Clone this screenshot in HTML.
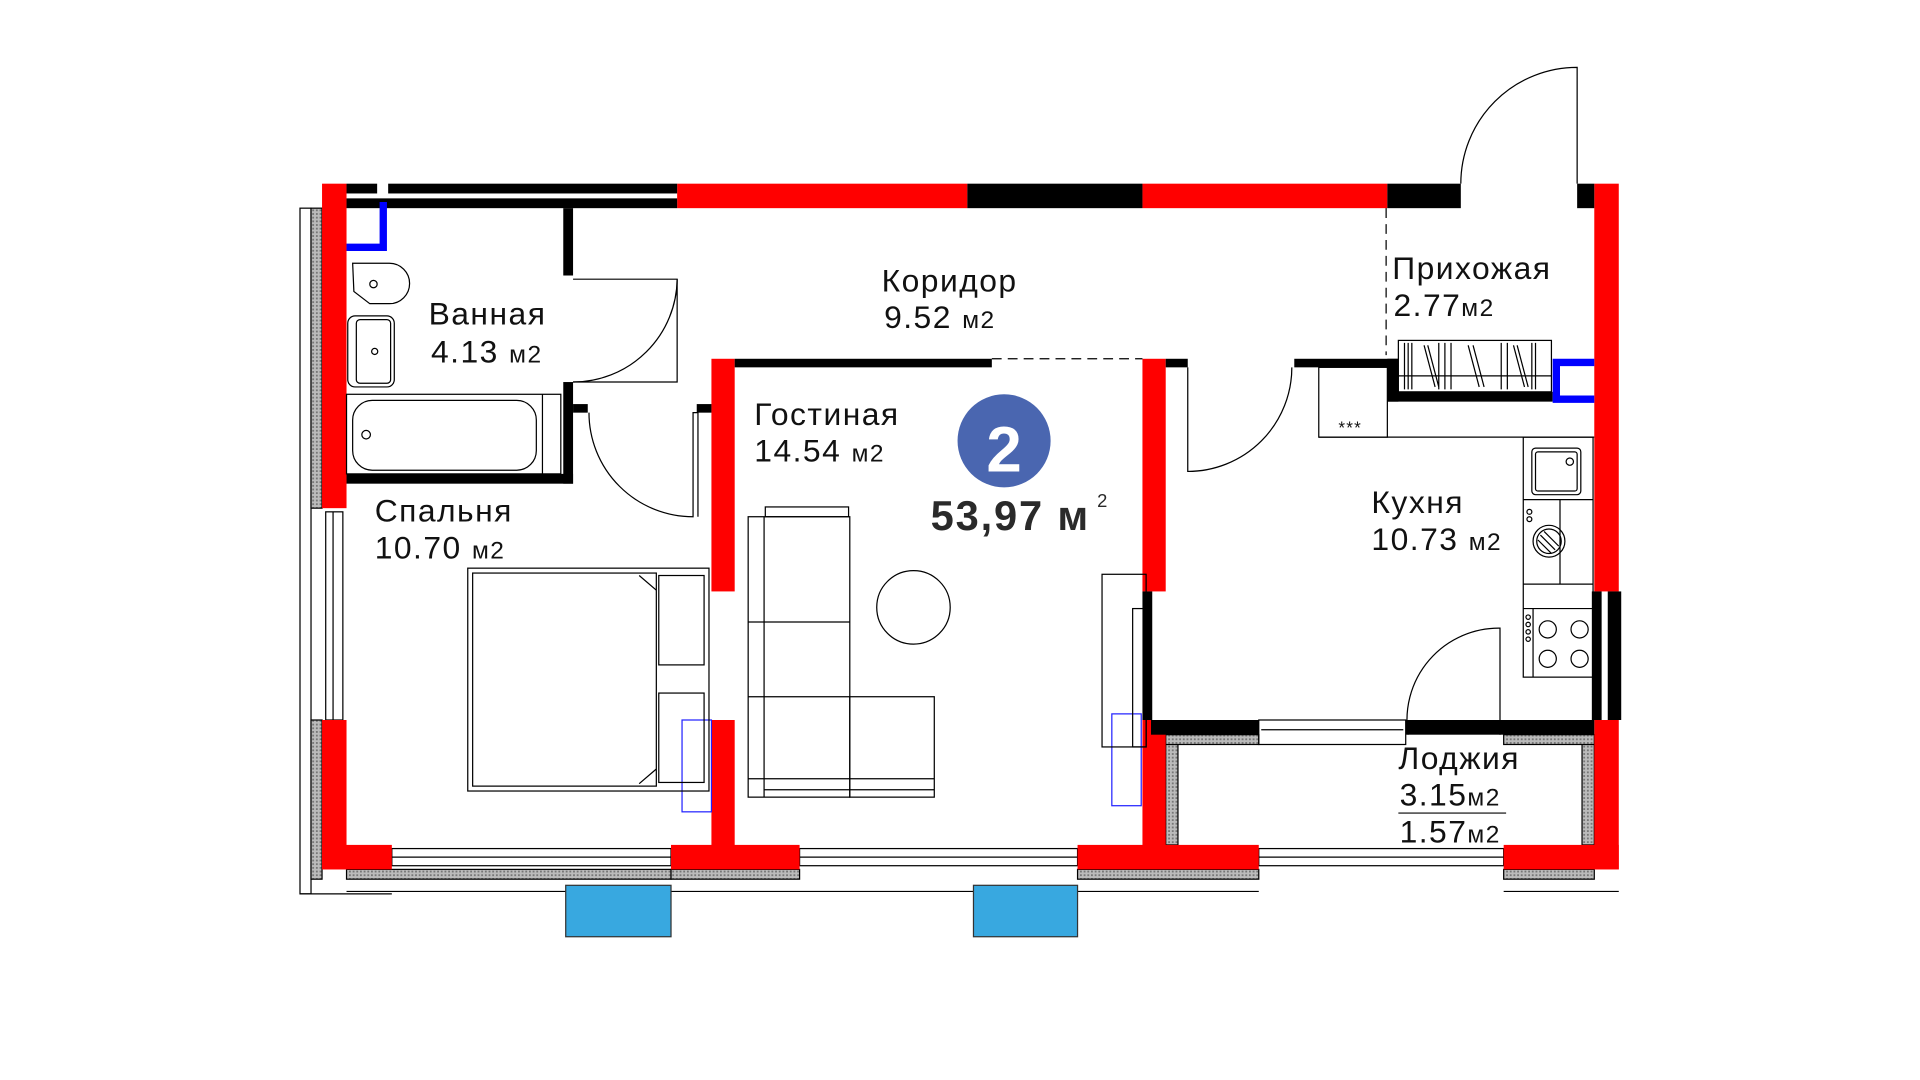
<!DOCTYPE html>
<html><head><meta charset="utf-8"><style>
html,body{margin:0;padding:0;background:#fff;}
svg{display:block;}
text{font-family:"Liberation Sans",sans-serif;fill:#111;}
</style></head><body>
<svg width="1920" height="1080" viewBox="0 0 1568 882" xmlns="http://www.w3.org/2000/svg">
<defs>
<pattern id="hat" width="3" height="3" patternUnits="userSpaceOnUse"><rect width="3" height="3" fill="#bbb"/><rect width="1.5" height="1.5" fill="#777"/></pattern>
</defs>
<g fill="none" stroke="#000" stroke-width="1">
<rect x="245" y="170" width="9" height="560"/>
<rect x="254" y="170" width="9" height="245" fill="url(#hat)"/>
<rect x="254" y="588" width="9" height="130" fill="url(#hat)"/>
<rect x="266" y="418" width="14" height="170"/>
<line x1="272" y1="418" x2="272" y2="588"/>
<line x1="245" y1="730" x2="320" y2="730"/>
<rect x="320" y="693" width="228" height="14"/>
<line x1="320" y1="700" x2="548" y2="700"/>
<rect x="283" y="710" width="265" height="8" fill="url(#hat)"/>
<line x1="283" y1="728" x2="548" y2="728"/>
<rect x="653" y="693" width="227" height="14"/>
<line x1="653" y1="700" x2="880" y2="700"/>
<rect x="548" y="710" width="105" height="8" fill="url(#hat)"/>
<line x1="548" y1="728" x2="880" y2="728"/>
<rect x="880" y="710" width="148" height="8" fill="url(#hat)"/>
<line x1="880" y1="728" x2="1028" y2="728"/>
<rect x="1028" y="693" width="200" height="14"/>
<line x1="1028" y1="700" x2="1228" y2="700"/>
<rect x="1228" y="710" width="74" height="8" fill="url(#hat)"/>
<line x1="1228" y1="728" x2="1322" y2="728"/>
<rect x="952" y="600" width="10" height="90" fill="url(#hat)"/>
<rect x="1292" y="600" width="10" height="90" fill="url(#hat)"/>
<rect x="952" y="600" width="76" height="8" fill="url(#hat)"/>
<rect x="1228" y="600" width="74" height="8" fill="url(#hat)"/>
<rect x="1028" y="588" width="120" height="20"/>
<line x1="1030" y1="596" x2="1146" y2="596"/>
</g>
<g fill="#ff0000">
<rect x="263" y="150" width="20" height="265"/>
<rect x="263" y="588" width="20" height="122"/>
<rect x="263" y="690" width="57" height="20"/>
<rect x="548" y="690" width="105" height="20"/>
<rect x="880" y="690" width="148" height="20"/>
<rect x="1228" y="690" width="94" height="20"/>
<rect x="553" y="150" width="237" height="20"/>
<rect x="933" y="150" width="200" height="20"/>
<rect x="1302" y="150" width="20" height="333"/>
<rect x="1302" y="588" width="20" height="122"/>
<rect x="581" y="293" width="19" height="190"/>
<rect x="581" y="588" width="19" height="104"/>
<rect x="933" y="293" width="19" height="190"/>
<rect x="933" y="588" width="19" height="104"/>
</g>
<g fill="#000">
<rect x="283" y="150" width="25" height="8"/>
<rect x="317" y="150" width="236" height="8"/>
<rect x="283" y="162" width="270" height="8"/>
<rect x="790" y="150" width="143" height="20"/>
<rect x="1133" y="150" width="60" height="20"/>
<rect x="1288" y="150" width="14" height="20"/>
<rect x="460" y="170" width="8" height="55"/>
<rect x="460" y="312" width="8" height="83"/>
<rect x="283" y="387" width="185" height="8"/>
<rect x="468" y="330" width="12" height="7"/>
<rect x="569" y="330" width="12" height="7"/>
<rect x="600" y="293" width="210" height="7"/>
<rect x="952" y="293" width="18" height="7"/>
<rect x="1057" y="293" width="85" height="7"/>
<rect x="1133" y="293" width="9" height="35"/>
<rect x="1133" y="320" width="135" height="8"/>
<rect x="933" y="483" width="8" height="105"/>
<rect x="940" y="588" width="88" height="12"/>
<rect x="1148" y="588" width="154" height="12"/>
<rect x="1300" y="483" width="8" height="105"/>
<rect x="1313" y="483" width="11" height="105"/>
</g>
<g fill="none" stroke="#0000ff" stroke-width="6">
<polyline points="283,202 313,202 313,165"/>
<polyline points="1302,296 1271,296 1271,326 1302,326"/>
</g>
<g fill="none" stroke="#2222ff" stroke-width="1">
<rect x="557" y="588" width="24" height="75"/>
<rect x="908" y="583" width="24" height="75"/>
</g>
<rect x="462" y="723" width="86" height="42" fill="#38a8e0" stroke="#333" stroke-width="1"/>
<rect x="795" y="723" width="85" height="42" fill="#38a8e0" stroke="#333" stroke-width="1"/>
<g fill="none" stroke="#000" stroke-width="1">
<line x1="1132" y1="170" x2="1132" y2="290" stroke-dasharray="8,5"/>
<line x1="810" y1="293" x2="933" y2="293" stroke-dasharray="8,5"/>
<path d="M1193,150 A95,95 0 0 1 1288,55 L1288,150"/>
<path d="M468,312 L553,312 L553,228 L468,228"/>
<path d="M553,228 A85,85 0 0 1 468,312"/>
<path d="M481,337 A85,85 0 0 0 566,422 L566,337 L570,337 L570,422"/>
<path d="M970,300 L970,385 A85,85 0 0 0 1055,300"/>
<path d="M1150,600 A75,75 0 0 1 1225,513 L1225,600"/>
<path d="M288,215 L318,215 A15,15 0 0 1 318,248 L302,248 L289,238 Z"/>
<circle cx="305" cy="232" r="3"/>
<rect x="284" y="258" width="38" height="58" rx="6"/>
<rect x="291" y="261" width="28" height="52" rx="3"/>
<circle cx="306" cy="287" r="2.5"/>
<rect x="283" y="322" width="175" height="65"/>
<rect x="288" y="327" width="150" height="57" rx="16"/>
<line x1="443" y1="322" x2="443" y2="387"/>
<circle cx="299" cy="355" r="3.5"/>
<rect x="382" y="464" width="197" height="182"/>
<rect x="386" y="468" width="150" height="174"/>
<rect x="538" y="470" width="37" height="73"/>
<rect x="538" y="566" width="37" height="73"/>
<path d="M522,470 L536,482 M522,640 L536,628"/>
<rect x="611" y="422" width="83" height="229"/>
<rect x="625" y="414" width="68" height="8"/>
<line x1="624" y1="422" x2="624" y2="651"/>
<line x1="611" y1="508" x2="694" y2="508"/>
<line x1="611" y1="569" x2="694" y2="569"/>
<rect x="694" y="569" width="69" height="82"/>
<line x1="611" y1="636" x2="763" y2="636"/>
<line x1="624" y1="645" x2="763" y2="645"/>
<circle cx="746" cy="496" r="30"/>
<rect x="900" y="469" width="36" height="141"/>
<rect x="925" y="497" width="11" height="113"/>
<rect x="1077" y="300" width="56" height="57"/>
<line x1="1077" y1="357" x2="1302" y2="357"/>
<rect x="1244" y="357" width="57" height="196"/>
<line x1="1244" y1="408" x2="1301" y2="408"/>
<line x1="1244" y1="477" x2="1301" y2="477"/>
<line x1="1244" y1="497" x2="1301" y2="497"/>
<line x1="1274" y1="408" x2="1274" y2="477"/>
<rect x="1251" y="366" width="40" height="38" rx="3"/>
<rect x="1254" y="369" width="34" height="32" rx="2"/>
<circle cx="1282" cy="377" r="3"/>
<circle cx="1265" cy="442" r="13"/>
<circle cx="1265" cy="442" r="10"/>
<path d="M1258,437 L1270,449 M1261,434 L1273,446 M1256,441 L1267,452"/>
<circle cx="1249" cy="418" r="2"/><circle cx="1249" cy="424" r="2"/>
<line x1="1252" y1="497" x2="1252" y2="553"/>
<circle cx="1264" cy="514" r="7"/><circle cx="1290" cy="514" r="7"/>
<circle cx="1264" cy="538" r="7"/><circle cx="1290" cy="538" r="7"/>
<circle cx="1248" cy="504" r="1.8"/><circle cx="1248" cy="510" r="1.8"/><circle cx="1248" cy="516" r="1.8"/><circle cx="1248" cy="522" r="1.8"/>
<rect x="1142" y="278" width="125" height="42"/>
<line x1="1142" y1="307" x2="1267" y2="307"/>
<path d="M1147,280 V318 M1150,280 V318 M1153,280 V318 M1175,280 V318 M1180,280 V318 M1185,280 V318 M1226,280 V318 M1231,280 V318 M1251,280 V318 M1254,280 V318 M1163,282 L1172,316 M1166,282 L1175,316 M1199,282 L1208,316 M1203,282 L1212,316 M1239,282 L1248,316 M1236,282 L1245,316"/>
<line x1="1142" y1="664" x2="1230" y2="664"/>
</g>
<text x="1093" y="354" font-size="14" letter-spacing="1">***</text>
<circle cx="820" cy="360" r="38" fill="#4a66b0"/>
<text x="820" y="385" font-size="52" font-weight="bold" text-anchor="middle" style="fill:#fff">2</text>
<text x="760" y="433" font-size="34" font-weight="bold" letter-spacing="1.5" style="fill:#2a2a2a">53,97 м</text>
<text x="896" y="414" font-size="15" style="fill:#2a2a2a">2</text>
<g font-size="26" letter-spacing="1.2">
<text x="720" y="238">Коридор</text>
<text x="722" y="268">9.52 <tspan font-size="20">м2</tspan></text>
<text x="350" y="265">Ванная</text>
<text x="352" y="296">4.13 <tspan font-size="20">м2</tspan></text>
<text x="1137" y="228">Прихожая</text>
<text x="1138" y="258">2.77<tspan font-size="20">м2</tspan></text>
<text x="616" y="347">Гостиная</text>
<text x="616" y="377">14.54 <tspan font-size="20">м2</tspan></text>
<text x="306" y="426">Спальня</text>
<text x="306" y="456">10.70 <tspan font-size="20">м2</tspan></text>
<text x="1120" y="419">Кухня</text>
<text x="1120" y="449">10.73 <tspan font-size="20">м2</tspan></text>
<text x="1142" y="628">Лоджия</text>
<text x="1143" y="658">3.15<tspan font-size="20">м2</tspan></text>
<text x="1143" y="688">1.57<tspan font-size="20">м2</tspan></text>
</g>
</svg>
</body></html>
